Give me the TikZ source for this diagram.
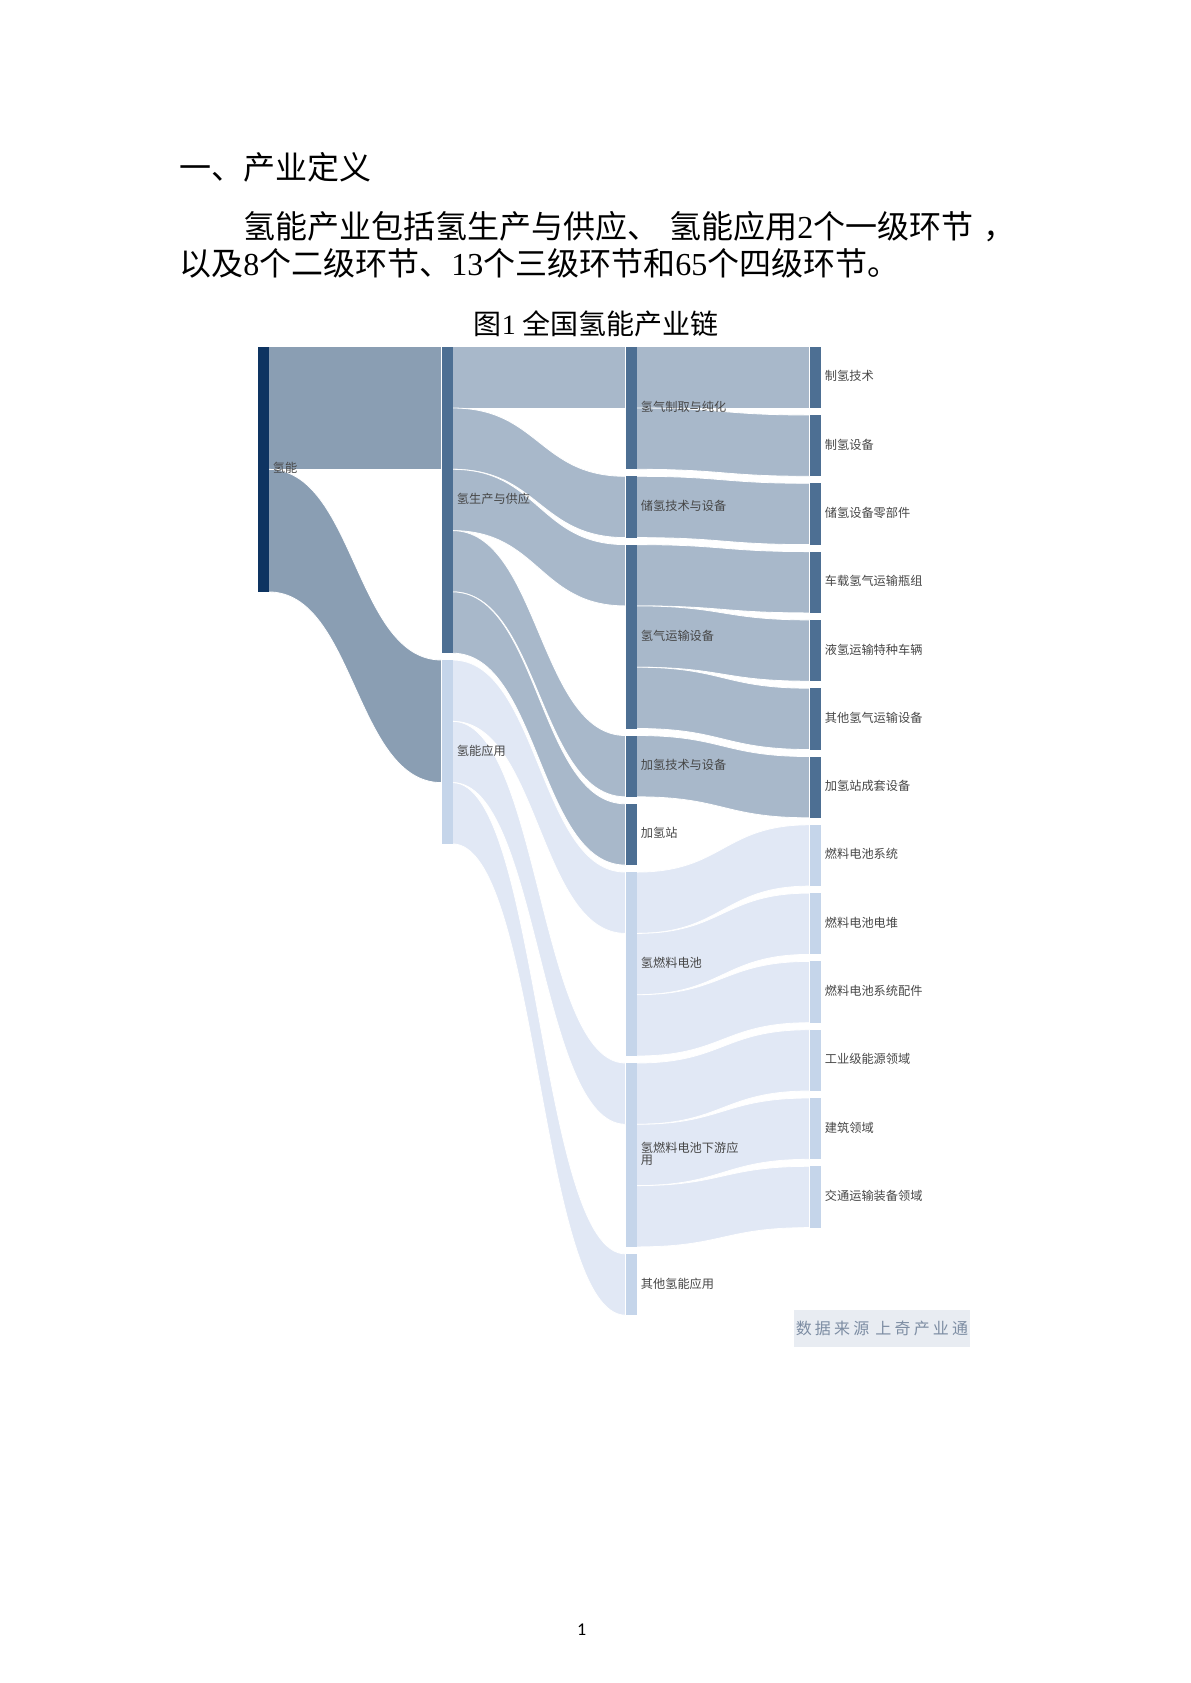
\documentclass[tikz,border=0pt]{standalone}
\usepackage{fontspec}
\setmainfont{Noto Sans CJK SC}
\newfontfamily\tnr{Liberation Serif}
\newfontfamily\pgnumfont{Carlito}
\newfontfamily\srcfont[LetterSpace=20]{Noto Sans CJK SC}
\usetikzlibrary{calc,positioning}

\definecolor{hnavy}{HTML}{0E3461}
\definecolor{hdark}{HTML}{4D6F93}
\definecolor{hlight}{HTML}{C5D5EA}
\definecolor{lknavy}{HTML}{8A9EB3}
\definecolor{lkdark}{HTML}{A8B8CA}
\definecolor{lklight}{HTML}{E1E8F5}
\definecolor{labgray}{HTML}{464646}
\definecolor{srcfill}{HTML}{E8ECF2}
\definecolor{srctext}{HTML}{7D8DA3}

\pgfdeclarelayer{bg}
\pgfsetlayers{bg,main}

\newcommand{\uh}{30.65pt}
% band from node #1 (offset #2) to node #3 (offset #4), #5 units wide
\newcommand{\flow}[6]{%
  \coordinate (s1) at ($(#1.north east)+(0,#2*61.3)$);
  \coordinate (s2) at ($(#1.north east)+(0,#2*61.3+#5*61.3)$);
  \coordinate (t1) at ($(#3.north west)+(0,#4*61.3)$);
  \coordinate (t2) at ($(#3.north west)+(0,#4*61.3+#5*61.3)$);
  \coordinate (m) at ($(s1)!0.5!(t1)$);
  \path[lnk=#6] (s1) .. controls (m|-s1) and (m|-t1) .. (t1) -- (t2)
    .. controls (m|-t2) and (m|-s2) .. (s2) -- cycle;
}

\begin{document}
\begin{tikzpicture}[x=0.5pt,y=-0.5pt,
    bar/.style={anchor=north west, inner sep=0pt, outer sep=0pt, minimum width=5.5pt, fill=#1},
    lbl/.style={font=\fontsize{6.1pt}{5.6pt}\selectfont, text=labgray, inner sep=0pt, align=left, yshift=0.6pt},
    lnk/.style={fill=#1, draw=white, line width=0.4pt},
    head/.style={font=\fontsize{16pt}{19pt}\selectfont, inner sep=0pt, anchor=base west},
    every label/.style={lbl}, label distance=2pt]
	\useasboundingbox (0,0) rectangle (1190,1683);

	% headings
	\node[head] (sec) at (179,179.5) {一、产业定义};
	\node[head] (par1a) at (243,238.7) {氢能产业包括氢生产与供应、};
	\node[head] (par1b) at (669,238.7) {氢能应用{\tnr 2}个一级环节\hspace{5pt}，};
	\node[head] (par2) at (179,275) {以及{\tnr 8}个二级环节、{\tnr 13}个三级环节和{\tnr 65}个四级环节。};
	\node[font=\fontsize{14pt}{17pt}\selectfont, inner sep=0pt, anchor=base] (fig) at (596,334) {图{\tnr 1} 全国氢能产业链};

	% level 1 and 2
	\node[bar=hnavy, minimum height=4*\uh, label=right:氢能] (qn) at (257.5,346.7) {};
	\node[bar=hdark, minimum height=5*\uh, label=right:氢生产与供应] (sc) at (441.5,346.7) {};
	\node[bar=hlight, minimum height=3*\uh, label=right:氢能应用] (yy) at (441.5,660) {};

	% level 3
	\node[bar=hdark, minimum height=2*\uh, label=right:氢气制取与纯化] (zq) at (625.5,346.7) {};
	\node[bar=hdark, minimum height=\uh, label=right:储氢技术与设备] (cq) at (625.5,476.3) {};
	\node[bar=hdark, minimum height=3*\uh, label=right:氢气运输设备] (ys) at (625.5,544.6) {};
	\node[bar=hdark, minimum height=\uh, label=right:加氢技术与设备] (jj) at (625.5,735.5) {};
	\node[bar=hdark, minimum height=\uh, label=right:加氢站] (jz) at (625.5,803.8) {};
	\node[bar=hlight, minimum height=3*\uh, label=right:氢燃料电池] (rl) at (625.5,872.1) {};
	\node[bar=hlight, minimum height=3*\uh, label={right:{氢燃料电池下游应\\用}}] (xy) at (625.5,1063) {};
	\node[bar=hlight, minimum height=\uh, label=right:其他氢能应用] (qt) at (625.5,1253.9) {};

	% level 4
	\foreach \nm/\txt/\col [count=\i from 0] in {l1/制氢技术/hdark, l2/制氢设备/hdark,
	    l3/储氢设备零部件/hdark, l4/车载氢气运输瓶组/hdark, l5/液氢运输特种车辆/hdark,
	    l6/其他氢气运输设备/hdark, l7/加氢站成套设备/hdark, l8/燃料电池系统/hlight,
	    l9/燃料电池电堆/hlight, l10/燃料电池系统配件/hlight, l11/工业级能源领域/hlight,
	    l12/建筑领域/hlight, l13/交通运输装备领域/hlight}
	  \node[bar=\col, minimum height=\uh, label=right:\txt] (\nm) at (809.5,346.7+\i*68.3) {};

	\begin{pgfonlayer}{bg}
	\flow{qn}{0}{sc}{0}{2}{lknavy}
	\flow{qn}{2}{yy}{0}{2}{lknavy}

	\flow{sc}{0}{zq}{0}{1}{lkdark}
	\flow{sc}{1}{cq}{0}{1}{lkdark}
	\flow{sc}{2}{ys}{0}{1}{lkdark}
	\flow{sc}{3}{jj}{0}{1}{lkdark}
	\flow{sc}{4}{jz}{0}{1}{lkdark}
	\flow{yy}{0}{rl}{0}{1}{lklight}
	\flow{yy}{1}{xy}{0}{1}{lklight}
	\flow{yy}{2}{qt}{0}{1}{lklight}

	\flow{zq}{0}{l1}{0}{1}{lkdark}
	\flow{zq}{1}{l2}{0}{1}{lkdark}
	\flow{cq}{0}{l3}{0}{1}{lkdark}
	\flow{ys}{0}{l4}{0}{1}{lkdark}
	\flow{ys}{1}{l5}{0}{1}{lkdark}
	\flow{ys}{2}{l6}{0}{1}{lkdark}
	\flow{jj}{0}{l7}{0}{1}{lkdark}
	\flow{rl}{0}{l8}{0}{1}{lklight}
	\flow{rl}{1}{l9}{0}{1}{lklight}
	\flow{rl}{2}{l10}{0}{1}{lklight}
	\flow{xy}{0}{l11}{0}{1}{lklight}
	\flow{xy}{1}{l12}{0}{1}{lklight}
	\flow{xy}{2}{l13}{0}{1}{lklight}
	\end{pgfonlayer}

	% source note and page number
	\node[fill=srcfill, minimum width=88.35pt, minimum height=18.65pt, inner sep=0pt,
	  text=srctext, font=\srcfont\fontsize{8pt}{10pt}\selectfont] (src) at (882,1328.7) {数据来源\hspace{3pt}上奇产业通};
	\node[font=\pgnumfont\fontsize{9pt}{11pt}\selectfont, inner sep=0pt] (pg) at (581.7,1630) {1};
\end{tikzpicture}
\end{document}
